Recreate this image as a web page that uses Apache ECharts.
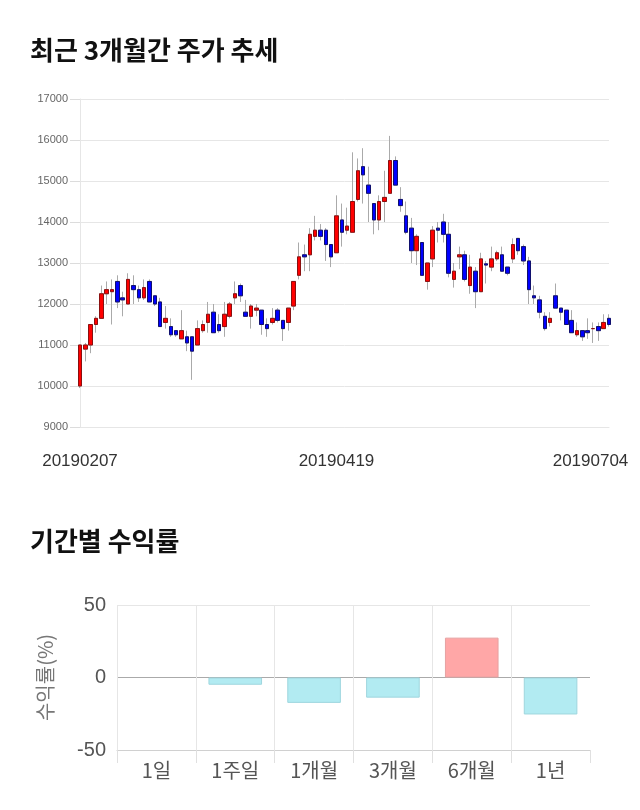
<!DOCTYPE html>
<html><head><meta charset="utf-8">
<script src="https://cdn.jsdelivr.net/npm/echarts@6/dist/echarts.min.js"></script>
<style>html,body{margin:0;padding:0;background:#fff;}#c{width:640px;height:810px;}</style>
</head><body><div id="c"></div>
<script>
var dates = ['20190207','20190208','20190211','20190212','20190213','20190214','20190215','20190218','20190219','20190220','20190221','20190222','20190225','20190226','20190227','20190228',
'20190306','20190307','20190308','20190311','20190312','20190313','20190314','20190315','20190318','20190319','20190320','20190321','20190322','20190325','20190326','20190327','20190328','20190329',
'20190401','20190402','20190403','20190404','20190405','20190408','20190409','20190410','20190411','20190412','20190415','20190416','20190417','20190418','20190419','20190422','20190423','20190424','20190425','20190426','20190429','20190430',
'20190502','20190503','20190507','20190508','20190509','20190510','20190513','20190514','20190515','20190516','20190517','20190520','20190521','20190522','20190523','20190524','20190527','20190528','20190529','20190530','20190531',
'20190603','20190604','20190605','20190607','20190610','20190611','20190612','20190613','20190614','20190617','20190618','20190619','20190620','20190621','20190624','20190625','20190626','20190627','20190628',
'20190701','20190702','20190703','20190704'];
var shownDates = ['20190207','20190419','20190704'];

var opens = [10000,10900,11000,11500,11650,12250,12300,12550,12150,12000,
12450,12350,12150,12550,12200,12050,11550,11450,11350,11150,
11200,11200,11000,11350,11550,11800,11500,11450,11700,12150,
12450,11800,11700,11850,11850,11500,11550,11850,11600,11550,
11950,12700,13200,13200,13650,13800,13800,13450,13250,14050,
13800,13750,14550,15350,14900,14450,14050,14500,14700,15500,
14550,14150,13850,13300,13500,12550,13100,13850,14000,13700,
12600,13150,13200,12450,12800,12300,12980,12900,13100,13200,
12900,13100,13600,13400,13050,12200,12100,11700,11550,12200,
11900,11850,11600,11250,11350,11350,11400,11450,11400,11650];
var closes = [11000,11000,11500,11650,12250,12350,12350,12050,12100,12600,
12350,12150,12400,12050,12000,11450,11650,11250,11250,11350,
11050,10850,11400,11500,11750,11300,11350,11750,12000,12250,
12200,11700,11950,11900,11500,11400,11650,11600,11400,11900,
12550,13150,13150,13700,13800,13650,13450,13150,14150,13750,
13900,14500,15250,15150,14700,14050,14500,14600,15500,14900,
14400,13750,13300,13650,12700,13000,13800,13800,13700,12750,
12800,13200,12600,12900,12300,13100,12950,13100,13250,12800,
12750,13450,13300,13050,12350,12150,11800,11400,11650,11900,
11800,11500,11300,11350,11200,11300,11400,11350,11550,11500];
var lows = [9950,10600,10800,11300,11650,12000,11500,11900,11700,12000,
12000,12050,12100,12050,11950,11450,11400,11200,11200,11150,
10850,10150,11000,11300,11300,11300,11300,11200,11650,12000,
12050,11700,11400,11700,11250,11200,11500,11550,11100,11350,
11850,12600,12800,12800,13550,13550,13050,12900,13250,13400,
13700,13750,14500,14450,14000,13700,13800,14000,14700,14900,
14250,13700,13000,12950,12700,12350,12900,13500,13500,12650,
12400,12850,12550,12250,11900,12300,12500,12800,13050,12800,
12700,13000,13200,12950,12000,12000,11650,11350,11450,11900,
11600,11500,11300,11200,11100,11150,11050,11100,11400,11450];
var highs = [11000,11050,11500,11700,12450,12550,12600,12700,12300,12750,
12700,12450,12600,12600,12200,12150,11950,11650,11350,11850,
11350,11200,11600,11600,12050,12000,11750,12050,12050,12550,
12500,12100,12000,12000,11850,11650,11900,11900,11600,11900,
12550,13500,13450,13850,14150,13950,13850,13450,14650,14450,
14350,15700,15550,15800,15350,14450,14650,15250,16100,15600,
14850,14500,14100,13700,13500,13000,13900,14000,14200,14000,
13000,13400,13300,13200,12900,13250,13050,13400,13300,13400,
12900,13600,13600,13450,13150,12450,12200,11800,11800,12500,
11900,11850,11850,11550,11350,11650,11550,11550,11750,11750];

var periods = ['1일','1주일','1개월','3개월','6개월','1년'];
var returns = [0,-5.0,-17.5,-13.9,27.5,-25.5];

var wickData = dates.map(function(d,i){return [opens[i],closes[i],lows[i],highs[i]];});
var bodyData = dates.map(function(d,i){return [opens[i],closes[i],Math.min(opens[i],closes[i]),Math.max(opens[i],closes[i])];});
var barData = returns.map(function(v){
  if (v === 0) return {value:v,itemStyle:{borderWidth:0,color:'rgba(0,0,0,0)'}};
  return {value:v,itemStyle:v>0?{color:'#ffa7a7',borderColor:'#e6a2a2',borderWidth:1}:{color:'#b2ebf2',borderColor:'#9fd6de',borderWidth:1}};
});

var chart = echarts.init(document.getElementById('c'));
var latin = 'Liberation Sans, Arial, sans-serif';
var kr = '"Noto Sans CJK KR", sans-serif';
chart.setOption({
  animation:false,
  backgroundColor:'#fff',
  title:[
    {text:'최근 3개월간 주가 추세',left:30,top:37,padding:0,textStyle:{fontFamily:kr,fontSize:26,fontWeight:'bold',color:'#111'}},
    {text:'기간별 수익률',left:30,top:528,padding:0,textStyle:{fontFamily:kr,fontSize:26,fontWeight:'bold',color:'#111'}}
  ],
  grid:[
    {left:80,right:31,top:99,height:328},
    {left:117,right:50,top:605,height:145}
  ],
  xAxis:[
    {type:'category',gridIndex:0,data:dates,boundaryGap:false,
     axisLine:{show:true,lineStyle:{color:'#e6e6e6'}},axisTick:{show:false},splitLine:{show:false},
     axisLabel:{interval:function(i,v){return shownDates.indexOf(v)>=0;},fontFamily:latin,fontSize:17,color:'#333',margin:26,
       formatter:function(v,i){return i===dates.length-1?'{r|'+v+'}':v;},
       rich:{r:{fontFamily:latin,fontSize:17,color:'#333',padding:[0,37,0,0]}}}},
    {type:'category',gridIndex:1,data:periods,
     axisLine:{show:true,onZero:false,lineStyle:{color:'#d0d0d0'}},
     axisTick:{show:true,interval:0,length:13,lineStyle:{color:'#e0e0e0'}},
     splitLine:{show:true,interval:0,lineStyle:{color:['#e6e6e6','#e6e6e6','#e6e6e6','#e6e6e6','#e6e6e6','#e6e6e6','rgba(0,0,0,0)']}},
     axisLabel:{fontFamily:kr,fontSize:20,color:'#555',margin:10}}
  ],
  yAxis:[
    {type:'value',gridIndex:0,min:9000,max:17000,interval:1000,
     axisLine:{show:true,lineStyle:{color:'#e6e6e6'}},
     axisTick:{show:true,length:10,lineStyle:{color:'#dcdcdc'}},
     splitLine:{show:true,lineStyle:{color:'#e6e6e6'}},
     axisLabel:{fontFamily:latin,fontSize:11,color:'#666',margin:12,formatter:function(v){return String(v);}}},
    {type:'value',gridIndex:1,min:-50,max:50,interval:50,
     name:'수익률(%)',nameLocation:'middle',nameGap:62,nameRotate:90,
     nameTextStyle:{fontFamily:kr,fontSize:20,color:'#777'},
     axisLine:{show:false},axisTick:{show:false},
     splitLine:{show:true,lineStyle:{color:['#d0d0d0','#aaaaaa','#e6e6e6']}},
     axisLabel:{fontFamily:latin,fontSize:20,color:'#555',margin:11}}
  ],
  series:[
    {type:'candlestick',xAxisIndex:0,yAxisIndex:0,data:wickData,barWidth:4,
     itemStyle:{color:'#aaa',color0:'#aaa',borderColor:'#aaa',borderColor0:'#aaa',borderWidth:1}},
    {type:'candlestick',xAxisIndex:0,yAxisIndex:0,data:bodyData,barWidth:4,
     itemStyle:{color:'#ff0000',color0:'#0000ff',borderColor:'#8a1010',borderColor0:'#10106e',borderWidth:1}},
    {type:'bar',xAxisIndex:1,yAxisIndex:1,data:barData,barWidth:'68%'}
  ]
});
</script></body></html>
